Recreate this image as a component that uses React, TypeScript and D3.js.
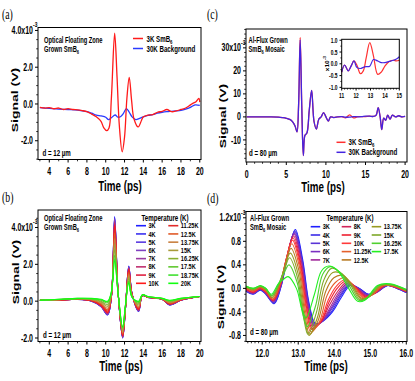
import React from "react";
import * as d3 from "d3";

const W = 415;
const H = 381;
const SX = 0.7; // the original figure is squeezed horizontally
const SANS = "'Liberation Sans', Arial, Helvetica, sans-serif";
const SERIF = "'Liberation Serif', 'Times New Roman', serif";

// ---------- panel (a): optical floating zone, 3K vs 30K ----------
const aRedTime = [3, 3.5, 4, 4.5, 5, 5.5, 6, 6.5, 7, 7.5, 8, 8.5, 9, 9.5, 9.8, 10.1, 10.35, 10.6, 10.95, 11.2, 11.45, 11.75, 12.0, 12.25, 12.5, 12.75, 13.0, 13.45, 13.8, 14.0, 14.5, 15.0, 15.5, 16.0, 16.5, 17.0, 17.5, 18.0, 18.5, 19.0, 19.3, 19.6, 19.9, 20.0];
const aRed = [-0.18, -0.22, -0.2, -0.26, -0.22, -0.3, -0.25, -0.3, -0.32, -0.36, -0.42, -0.55, -0.7, -0.95, -1.3, -1.45, -1.3, 0.3, 3.85, 1.5, -1.2, -2.6, -1.8, 0.3, 1.45, 0.2, -0.8, -1.25, -0.9, -0.7, -0.6, -0.58, -0.45, -0.4, -0.3, -0.42, -0.38, -0.3, -0.22, -0.05, 0.05, 0.12, 0.3, 0.1];
const aBlueTime = [3, 4, 5, 6, 7, 8, 8.5, 9, 9.5, 10.0, 10.3, 10.6, 11.0, 11.3, 11.6, 11.9, 12.2, 12.5, 12.8, 13.2, 13.6, 14.0, 14.5, 15, 15.5, 16, 16.5, 17, 17.5, 18, 18.5, 19, 19.5, 20];
const aBlue = [-0.2, -0.24, -0.28, -0.3, -0.33, -0.42, -0.5, -0.6, -0.65, -0.72, -0.85, -0.75, -0.6, -0.72, -0.68, -0.5, -0.25, -0.45, -0.7, -0.85, -0.78, -0.7, -0.62, -0.58, -0.5, -0.45, -0.42, -0.4, -0.38, -0.35, -0.28, -0.18, -0.05, -0.08];

// ---------- panel (b): optical floating zone, temperature series ----------
const bTemps = ["3K", "4K", "5K", "6K", "7K", "8K", "9K", "10K", "11.25K", "12.5K", "13.75K", "15K", "16.25K", "17.5K", "18.75K", "20K"];
const bColors = ["#1f1fff", "#3a30f0", "#5a3ae0", "#8040c0", "#9a3aa0", "#c03070", "#e02040", "#ff1a1a", "#e02a2a", "#e05a28", "#c88040", "#a89a3a", "#88b030", "#60c830", "#40e030", "#10ff10"];
const bTime = [3, 5, 7, 8.5, 9.5, 10.2, 10.6, 10.95, 11.3, 11.8, 12.1, 12.45, 12.8, 13.5, 13.9, 14.5, 16, 16.8, 18, 20];
const bValues = [
  [0.05, 0.05, 0.1, 0.0, -0.3, -0.75, 0.2, 4.6, 0.6, -2.0, -0.4, 1.9, 0.4, -0.55, 0.3, 0.2, 0.1, -0.2, 0.05, 0.25],
  [0.05, 0.05, 0.1, 0.0, -0.29, -0.74, 0.21, 4.55, 0.6, -1.99, -0.4, 1.88, 0.4, -0.54, 0.3, 0.2, 0.1, -0.2, 0.05, 0.25],
  [0.05, 0.05, 0.1, 0.01, -0.28, -0.72, 0.21, 4.5, 0.6, -1.98, -0.39, 1.86, 0.39, -0.53, 0.3, 0.2, 0.1, -0.19, 0.05, 0.25],
  [0.05, 0.05, 0.1, 0.01, -0.28, -0.71, 0.22, 4.46, 0.59, -1.96, -0.39, 1.85, 0.39, -0.52, 0.3, 0.2, 0.1, -0.19, 0.05, 0.25],
  [0.05, 0.05, 0.1, 0.01, -0.27, -0.69, 0.22, 4.41, 0.59, -1.95, -0.38, 1.83, 0.38, -0.51, 0.3, 0.2, 0.1, -0.18, 0.05, 0.25],
  [0.05, 0.06, 0.11, 0.02, -0.25, -0.66, 0.24, 4.3, 0.59, -1.93, -0.38, 1.79, 0.38, -0.48, 0.31, 0.2, 0.1, -0.17, 0.06, 0.25],
  [0.05, 0.06, 0.11, 0.03, -0.23, -0.62, 0.25, 4.19, 0.58, -1.9, -0.37, 1.75, 0.37, -0.46, 0.31, 0.21, 0.11, -0.16, 0.07, 0.25],
  [0.05, 0.06, 0.11, 0.03, -0.22, -0.59, 0.26, 4.1, 0.58, -1.87, -0.36, 1.71, 0.36, -0.43, 0.31, 0.21, 0.11, -0.15, 0.07, 0.25],
  [0.05, 0.06, 0.11, 0.04, -0.18, -0.53, 0.29, 3.9, 0.57, -1.83, -0.34, 1.64, 0.34, -0.39, 0.31, 0.21, 0.11, -0.13, 0.08, 0.25],
  [0.05, 0.07, 0.12, 0.06, -0.15, -0.47, 0.31, 3.7, 0.56, -1.78, -0.33, 1.56, 0.33, -0.34, 0.32, 0.22, 0.12, -0.11, 0.09, 0.25],
  [0.05, 0.08, 0.13, 0.08, -0.1, -0.38, 0.35, 3.4, 0.55, -1.7, -0.3, 1.45, 0.3, -0.28, 0.33, 0.23, 0.13, -0.08, 0.1, 0.25],
  [0.05, 0.08, 0.13, 0.09, -0.05, -0.28, 0.39, 3.1, 0.54, -1.63, -0.28, 1.34, 0.28, -0.21, 0.33, 0.23, 0.13, -0.04, 0.11, 0.25],
  [0.05, 0.09, 0.14, 0.11, 0.0, -0.19, 0.43, 2.8, 0.53, -1.55, -0.25, 1.23, 0.25, -0.14, 0.34, 0.24, 0.14, -0.01, 0.13, 0.25],
  [0.05, 0.09, 0.14, 0.13, 0.05, -0.09, 0.46, 2.5, 0.51, -1.48, -0.23, 1.11, 0.23, -0.07, 0.34, 0.24, 0.14, 0.02, 0.14, 0.25],
  [0.05, 0.1, 0.15, 0.14, 0.08, -0.03, 0.49, 2.3, 0.5, -1.42, -0.21, 1.04, 0.21, -0.02, 0.35, 0.25, 0.15, 0.04, 0.15, 0.25],
  [0.05, 0.1, 0.15, 0.15, 0.1, 0.0, 0.5, 2.2, 0.5, -1.4, -0.2, 1.0, 0.2, 0.0, 0.35, 0.25, 0.15, 0.05, 0.15, 0.25],
];

// ---------- panel (c): Al-flux mosaic, 3K vs 30K ----------
const cTime = [0, 1, 2, 3, 4, 4.5, 5, 5.5, 5.8, 6.1, 6.35, 6.55, 6.75, 6.95, 7.15, 7.35, 7.6, 7.9, 8.2, 8.5, 8.8, 9.1, 9.4, 9.7, 10.0, 10.3, 10.6, 11, 11.5, 12, 12.5, 13, 13.5, 14, 14.5, 15, 15.5, 16, 16.35, 16.6, 16.85, 17.05, 17.3, 17.55, 17.8, 18.1, 18.4, 18.8, 19.2, 19.6, 20];
const cRed = [0, 0, 0, 0, -0.1, -0.3, -0.6, -1.2, -2.2, -4, -6.5, 5, 34.5, 5, -16.8, -8, -7, 3, 11.5, -2, -5.3, -1, 0, 1.9, 0, -1.8, 0, -0.3, 0, 0.1, -0.4, 0.9, -0.45, 0.1, 0.15, 0.15, 0.3, 0.2, 0.8, 4, 0, -5.5, -0.5, -1.5, 0.8, -1, 0.8, 0, 0.5, 0, 0.2];
const cBlue = [0, 0, 0, 0, -0.1, -0.3, -0.6, -1.2, -2.2, -4, -6.5, 5, 33.5, 5, -16.8, -8, -7, 3, 11.5, -2, -5.3, -1, 0, 1.9, 0, -1.8, 0, -0.3, 0, 0.1, -0.15, -0.1, 0.12, 0.05, 0.1, 0.3, 0.3, 0.2, 0.8, 4, 0, -5.5, -0.5, -1.5, 0.8, -1, 0.8, 0, 0.5, 0, 0.2];
// inset of (c), 11-15 ps
const insetTime = [11, 11.2, 11.45, 11.65, 11.85, 12.05, 12.3, 12.5, 12.7, 12.95, 13.2, 13.5, 13.75, 14.0, 14.3, 14.6, 14.8, 15];
const insetRed = [-0.35, -0.05, -0.3, -0.1, 0.12, -0.05, -0.42, -0.3, 0.25, 0.9, 0.35, -0.45, -0.35, -0.1, 0.1, 0.15, 0.12, 0.15];
const insetBlue = [-0.35, -0.05, -0.3, -0.1, 0.12, -0.15, -0.2, -0.15, -0.12, -0.1, 0.18, 0.12, 0.05, 0.05, 0.1, 0.15, 0.2, 0.3];

// ---------- panel (d): Al-flux mosaic, temperature series ----------
const dTemps = ["3K", "4K", "5K", "6K", "7K", "8K", "9K", "10K", "11.25K", "12.5K", "13.75K", "15K", "16.25K", "17.5K"];
const dColors = ["#1f1fff", "#3b2be8", "#5a35d6", "#7a2fc0", "#a0289a", "#d0245a", "#ee2030", "#ff3a3a", "#e4602c", "#b87a22", "#989a22", "#7ea828", "#50d030", "#22f022"];
const dTimes = [
  [11.55, 11.75, 11.95, 12.1, 12.33, 12.52, 12.72, 12.92, 13.12, 13.3, 13.48, 13.7, 13.95, 14.2, 14.45, 14.7, 14.95, 15.2, 15.5, 15.75, 16],
  [11.55, 11.75, 11.95, 12.1, 12.33, 12.52, 12.71, 12.91, 13.11, 13.29, 13.47, 13.69, 13.94, 14.18, 14.43, 14.69, 14.94, 15.18, 15.49, 15.74, 16],
  [11.55, 11.75, 11.95, 12.1, 12.32, 12.51, 12.71, 12.9, 13.1, 13.28, 13.45, 13.68, 13.92, 14.17, 14.42, 14.67, 14.92, 15.17, 15.47, 15.73, 16],
  [11.55, 11.75, 11.95, 12.1, 12.32, 12.51, 12.7, 12.89, 13.09, 13.27, 13.44, 13.66, 13.91, 14.15, 14.4, 14.66, 14.91, 15.15, 15.46, 15.72, 16],
  [11.55, 11.75, 11.95, 12.1, 12.31, 12.51, 12.69, 12.88, 13.09, 13.26, 13.43, 13.65, 13.89, 14.13, 14.38, 14.64, 14.89, 15.13, 15.44, 15.71, 16],
  [11.55, 11.75, 11.95, 12.1, 12.31, 12.5, 12.68, 12.87, 13.07, 13.25, 13.41, 13.63, 13.87, 14.11, 14.36, 14.62, 14.87, 15.11, 15.42, 15.7, 16],
  [11.55, 11.75, 11.95, 12.1, 12.3, 12.5, 12.67, 12.85, 13.06, 13.23, 13.39, 13.62, 13.85, 14.08, 14.33, 14.6, 14.85, 15.08, 15.4, 15.68, 16],
  [11.55, 11.75, 11.95, 12.1, 12.3, 12.49, 12.66, 12.84, 13.05, 13.22, 13.37, 13.6, 13.83, 14.06, 14.31, 14.58, 14.83, 15.06, 15.38, 15.67, 16],
  [11.55, 11.75, 11.95, 12.1, 12.29, 12.49, 12.65, 12.82, 13.04, 13.2, 13.35, 13.58, 13.8, 14.03, 14.28, 14.55, 14.8, 15.03, 15.35, 15.65, 16],
  [11.55, 11.75, 11.95, 12.1, 12.28, 12.48, 12.64, 12.8, 13.02, 13.18, 13.32, 13.55, 13.77, 13.99, 14.24, 14.52, 14.77, 14.99, 15.32, 15.63, 16],
  [11.55, 11.75, 11.95, 12.1, 12.27, 12.47, 12.62, 12.78, 13.0, 13.16, 13.3, 13.53, 13.74, 13.96, 14.21, 14.49, 14.74, 14.96, 15.29, 15.61, 16],
  [11.55, 11.75, 11.95, 12.1, 12.27, 12.46, 12.61, 12.76, 12.98, 13.14, 13.27, 13.5, 13.71, 13.92, 14.17, 14.46, 14.71, 14.92, 15.26, 15.59, 16],
  [11.55, 11.75, 11.95, 12.1, 12.26, 12.46, 12.59, 12.74, 12.97, 13.12, 13.25, 13.48, 13.68, 13.89, 14.14, 14.43, 14.68, 14.89, 15.23, 15.57, 16],
  [11.55, 11.75, 11.95, 12.1, 12.25, 12.45, 12.58, 12.72, 12.95, 13.1, 13.22, 13.45, 13.65, 13.85, 14.1, 14.4, 14.65, 14.85, 15.2, 15.55, 16],
];
const dValues = [
  [-0.05, -0.1, -0.03, -0.1, -0.26, 0.02, 0.6, 1.0, 0.5, -0.25, -0.6, -0.55, -0.4, -0.15, 0.05, 0, -0.1, -0.05, 0.05, 0, -0.07],
  [-0.04, -0.09, -0.02, -0.09, -0.25, 0.03, 0.58, 0.98, 0.49, -0.25, -0.6, -0.55, -0.38, -0.13, 0.06, 0, -0.1, -0.06, 0.05, 0, -0.07],
  [-0.04, -0.09, -0.02, -0.09, -0.24, 0.03, 0.57, 0.96, 0.48, -0.26, -0.62, -0.56, -0.36, -0.11, 0.07, 0, -0.11, -0.07, 0.05, 0.01, -0.06],
  [-0.03, -0.08, -0.01, -0.08, -0.23, 0.04, 0.56, 0.94, 0.47, -0.27, -0.63, -0.56, -0.34, -0.09, 0.08, 0, -0.11, -0.08, 0.05, 0.01, -0.06],
  [-0.02, -0.08, -0.01, -0.08, -0.22, 0.04, 0.55, 0.92, 0.46, -0.28, -0.64, -0.56, -0.32, -0.07, 0.09, 0, -0.12, -0.08, 0.05, 0.02, -0.06],
  [-0.02, -0.07, 0, -0.07, -0.21, 0.05, 0.53, 0.89, 0.44, -0.3, -0.66, -0.57, -0.28, -0.04, 0.11, 0.01, -0.13, -0.09, 0.05, 0.02, -0.05],
  [-0.01, -0.06, 0, -0.06, -0.2, 0.05, 0.5, 0.86, 0.42, -0.32, -0.68, -0.58, -0.24, 0, 0.13, 0.01, -0.14, -0.1, 0.05, 0.03, -0.05],
  [0, -0.05, 0.01, -0.05, -0.19, 0.06, 0.48, 0.82, 0.39, -0.34, -0.7, -0.58, -0.2, 0.04, 0.15, 0.02, -0.15, -0.11, 0.05, 0.03, -0.05],
  [0, -0.04, 0.02, -0.04, -0.18, 0.06, 0.44, 0.76, 0.35, -0.38, -0.74, -0.58, -0.12, 0.1, 0.18, 0.03, -0.16, -0.12, 0.05, 0.04, -0.04],
  [0.01, -0.03, 0.02, -0.03, -0.16, 0.07, 0.4, 0.68, 0.3, -0.42, -0.78, -0.55, -0.04, 0.18, 0.22, 0.04, -0.17, -0.13, 0.05, 0.05, -0.04],
  [0.02, -0.02, 0.03, -0.02, -0.15, 0.07, 0.35, 0.6, 0.24, -0.45, -0.8, -0.5, 0.06, 0.27, 0.25, 0.05, -0.18, -0.15, 0.05, 0.05, -0.03],
  [0.02, -0.01, 0.04, -0.01, -0.13, 0.08, 0.3, 0.52, 0.18, -0.45, -0.78, -0.42, 0.14, 0.34, 0.27, 0.05, -0.19, -0.16, 0.05, 0.06, -0.03],
  [0.03, 0, 0.04, 0, -0.12, 0.08, 0.23, 0.4, 0.1, -0.42, -0.65, -0.3, 0.24, 0.37, 0.28, 0.03, -0.2, -0.18, 0.05, 0.07, -0.02],
  [0.04, 0, 0.05, 0, -0.1, 0.08, 0.15, 0.2, 0, -0.35, -0.5, -0.1, 0.3, 0.38, 0.3, 0, -0.22, -0.2, 0.05, 0.08, -0.02],
];

// ---------- ticks ----------
const abXTicks = [4, 6, 8, 10, 12, 14, 16, 18, 20];
const abYTicks = [-2, 0, 2, 4];
const cXTicks = [0, 5, 10, 15, 20];
const cYTicks = [-10, 0, 10, 20, 30];
const dXTicks = [12, 13, 14, 15, 16];
const dYTicks = [-0.8, -0.4, 0, 0.4, 0.8, 1.2];
const insetXTicks = [11, 12, 13, 14, 15];
const insetYTicks = [-1, -0.5, 0, 0.5, 1];

const hy = (s: string) => s.replace("\u2212", "-");
const f1 = (v: number) => hy(d3.format(".1f")(v));
const f0 = (v: number) => hy(d3.format("d")(v));

function Txt({ x, y, size = 9, anchor = "start", weight = "bold", family = SANS, fill = "#000", rot = false, children }: any) {
  return (
    <g transform={`translate(${x},${y}) scale(${SX},1)${rot ? " rotate(-90)" : ""}`}>
      <text fontSize={size} fontWeight={weight} fontFamily={family} textAnchor={anchor} fill={fill}>
        {children}
      </text>
    </g>
  );
}

const Sm = ({ size, after }: any) => (
  <>
    SmB<tspan fontSize={size * 0.7} dy={size * 0.25}>6</tspan>
    {after ? <tspan dy={-size * 0.25}>{after}</tspan> : null}
  </>
);

function Axes({ xs, ys, xTicks, xMinor, yTicks, yMinor, xFmt, yFmt, topExp, lab = 10, xOff = 15.5, major = 3, minor = 1.8 }: any) {
  const [x0, x1] = xs.range();
  const [y0, y1] = ys.range();
  const topV = yTicks[yTicks.length - 1];
  return (
    <g>
      <rect x={x0} y={y1} width={x1 - x0} height={y0 - y1} fill="none" stroke="#000" strokeWidth={1} />
      {xMinor.map((v: number) => (
        <line key={"xm" + v} x1={xs(v)} x2={xs(v)} y1={y0} y2={y0 + minor} stroke="#000" strokeWidth={0.8} />
      ))}
      {xTicks.map((v: number) => (
        <g key={"x" + v}>
          <line x1={xs(v)} x2={xs(v)} y1={y0} y2={y0 + major} stroke="#000" strokeWidth={1} />
          <Txt x={xs(v)} y={y0 + xOff} size={lab} anchor="middle">{xFmt(v)}</Txt>
        </g>
      ))}
      {yMinor.map((v: number) => (
        <line key={"ym" + v} x1={x0 - minor} x2={x0} y1={ys(v)} y2={ys(v)} stroke="#000" strokeWidth={0.8} />
      ))}
      {yTicks.map((v: number) => (
        <g key={"y" + v}>
          <line x1={x0 - major} x2={x0} y1={ys(v)} y2={ys(v)} stroke="#000" strokeWidth={1} />
          <Txt x={x0 - major - 2} y={ys(v) + lab * 0.36} size={lab} anchor="end">
            {yFmt(v) + (topExp && v === topV ? "x10" : "")}
          </Txt>
          {topExp && v === topV ? (
            <Txt x={x0 - major - 2} y={ys(v) - lab * 0.3} size={lab * 0.7} anchor="start">-3</Txt>
          ) : null}
        </g>
      ))}
    </g>
  );
}

const minorRange = (a: number, b: number, step: number, majors: number[]) =>
  d3.range(Math.round(a / step), Math.round(b / step) + 1)
    .map((i) => +(i * step).toFixed(3))
    .filter((v) => !majors.some((m) => Math.abs(m - v) < 1e-6));

const curve = d3.curveCatmullRom.alpha(0.5);
function path(xs: any, ys: any, t: number[], v: number[]) {
  return d3.line<number>().x((_, i) => xs(t[i])).y((d) => ys(d)).curve(curve)(v) || "";
}

const NOTE = 8.2; // size of the in-panel notes

export default function App() {
  // panel scales
  const axX = d3.scaleLinear().domain([2.8, 20.13]).range([38, 201]);
  const aY = d3.scaleLinear().domain([-3.02, 4.16]).range([159.5, 27.5]);
  const bX = d3.scaleLinear().domain([2.8, 20.13]).range([38, 201]);
  const bY = d3.scaleLinear().domain([-2.19, 4.95]).range([341.5, 210]);
  const cX = d3.scaleLinear().domain([-0.09, 20.24]).range([246, 407]);
  const cY = d3.scaleLinear().domain([-19.6, 38.2]).range([162, 29]);
  const dX = d3.scaleLinear().domain([11.55, 16.02]).range([246, 407]);
  const dY = d3.scaleLinear().domain([-0.903, 1.307]).range([341.5, 211.5]);
  const iX = d3.scaleLinear().domain([11, 15]).range([341.7, 399.3]);
  const iY = d3.scaleLinear().domain([-1.04, 1.04]).range([88.3, 39.3]);

  const red = "#ff1a1a";
  const blue = "#2a3aff";
  const cRedC = "#ff3030";
  const cBlueC = "#4424e0";

  return (
    <svg width={W} height={H} style={{ position: "absolute", left: 0, top: 0, background: "#fff" }}>
      <rect width={W} height={H} fill="#fff" />

      {/* ================= (a) ================= */}
      <Txt x={2} y={19} size={14} weight="normal" family={SERIF}>(a)</Txt>
      <path d={path(axX, aY, aBlueTime, aBlue)} fill="none" stroke={blue} strokeWidth={1.3} />
      <path d={path(axX, aY, aRedTime, aRed)} fill="none" stroke={red} strokeWidth={1.3} />
      <Axes xs={axX} ys={aY} xTicks={abXTicks} xMinor={minorRange(3, 20, 1, abXTicks)} yTicks={abYTicks}
        yMinor={minorRange(-3, 4, 0.5, abYTicks)} xFmt={f0} yFmt={f1} topExp />
      <Txt x={44} y={42.5} size={NOTE}>Optical Floating Zone</Txt>
      <Txt x={44} y={51.5} size={NOTE}>Grown <Sm size={NOTE} /></Txt>
      <line x1={133} x2={143} y1={38.5} y2={38.5} stroke={red} strokeWidth={1.5} />
      <Txt x={146.5} y={41.5} size={8.8}>3K <Sm size={8.8} /></Txt>
      <line x1={133} x2={143} y1={48.5} y2={48.5} stroke={blue} strokeWidth={1.5} />
      <Txt x={146.5} y={51.5} size={8.8}>30K Background</Txt>
      <Txt x={42.5} y={156} size={8.8}>d = 12 µm</Txt>
      <Txt x={18} y={100} size={14} anchor="middle" rot>Signal (V)</Txt>
      <Txt x={120} y={190.5} size={14} anchor="middle">Time (ps)</Txt>

      {/* ================= (b) ================= */}
      <Txt x={2} y={202} size={14} weight="normal" family={SERIF}>(b)</Txt>
      {bValues.map((v, i) => (
        <path key={"b" + i} d={path(bX, bY, bTime, v)} fill="none" stroke={bColors[i]} strokeWidth={1.1} />
      ))}
      <Axes xs={bX} ys={bY} xTicks={abXTicks} xMinor={minorRange(3, 20, 1, abXTicks)} yTicks={abYTicks}
        yMinor={minorRange(-2, 4.5, 0.5, abYTicks)} xFmt={f0} yFmt={f1} topExp />
      <Txt x={44} y={220.5} size={NOTE}>Optical Floating Zone</Txt>
      <Txt x={44} y={229.5} size={NOTE}>Grown <Sm size={NOTE} /></Txt>
      <Txt x={165} y={220.5} size={8.8} anchor="middle">Temperature (K)</Txt>
      {bTemps.map((t, i) => {
        const col = Math.floor(i / 8);
        const row = i % 8;
        const lx = col === 0 ? 136 : 168.3;
        const ly = 225.7 + row * 8.23;
        return (
          <g key={"bl" + t}>
            <line x1={lx} x2={lx + 10} y1={ly} y2={ly} stroke={bColors[i]} strokeWidth={1.6} />
            <Txt x={lx + 12.5} y={ly + 2.6} size={8}>{t}</Txt>
          </g>
        );
      })}
      <Txt x={43} y={338} size={8.8}>d = 12 µm</Txt>
      <Txt x={19} y={272} size={14} anchor="middle" rot>Signal (V)</Txt>
      <Txt x={121} y={371} size={14} anchor="middle">Time (ps)</Txt>

      {/* ================= (c) ================= */}
      <Txt x={207} y={19} size={14} weight="normal" family={SERIF}>(c)</Txt>
      <path d={path(cX, cY, cTime, cRed)} fill="none" stroke={cRedC} strokeWidth={1.3} />
      <path d={path(cX, cY, cTime, cBlue)} fill="none" stroke={cBlueC} strokeWidth={1.3} />
      <Axes xs={cX} ys={cY} xTicks={cXTicks} xMinor={minorRange(0, 20, 1, cXTicks)} yTicks={cYTicks}
        yMinor={minorRange(-18, 38, 2, cYTicks)} xFmt={f0} yFmt={f0} topExp />
      <Txt x={248.5} y={42.5} size={NOTE}>Al-Flux Grown</Txt>
      <Txt x={248.5} y={51.5} size={NOTE}><Sm size={NOTE} after=" Mosaic" /></Txt>
      <Txt x={249} y={156} size={8.8}>d = 80 µm</Txt>
      <line x1={336.5} x2={345.5} y1={142.3} y2={142.3} stroke={cRedC} strokeWidth={1.5} />
      <Txt x={348.5} y={145.2} size={8.8}>3K <Sm size={8.8} /></Txt>
      <line x1={336.5} x2={345.5} y1={152.3} y2={152.3} stroke={cBlueC} strokeWidth={1.5} />
      <Txt x={348.5} y={155.2} size={8.8}>30K Background</Txt>
      <Txt x={226} y={116} size={14} anchor="middle" rot>Signal (V)</Txt>
      <Txt x={323} y={192} size={14} anchor="middle">Time (ps)</Txt>

      {/* inset */}
      <rect x={341.7} y={39.3} width={57.6} height={49} fill="#fff" />
      <path d={path(iX, iY, insetTime, insetRed)} fill="none" stroke={cRedC} strokeWidth={1.2} />
      <path d={path(iX, iY, insetTime, insetBlue)} fill="none" stroke={cBlueC} strokeWidth={1.2} />
      <Axes xs={iX} ys={iY} xTicks={insetXTicks} xMinor={minorRange(11, 15, 0.2, insetXTicks)} yTicks={insetYTicks}
        yMinor={minorRange(-1, 1, 0.25, insetYTicks)} xFmt={f0} yFmt={f1} lab={7} xOff={10} major={2.2} minor={1.3} />
      <Txt x={328.5} y={63.5} size={6.5} anchor="middle" rot>
        x10<tspan fontSize={5} dy={-3}>-3</tspan>
      </Txt>

      {/* ================= (d) ================= */}
      <Txt x={207} y={203} size={14} weight="normal" family={SERIF}>(d)</Txt>
      {dValues.map((v, i) => (
        <path key={"d" + i} d={path(dX, dY, dTimes[i], v)} fill="none" stroke={dColors[i]} strokeWidth={1.1} />
      ))}
      <Axes xs={dX} ys={dY} xTicks={dXTicks} xMinor={minorRange(11.6, 16, 0.1, dXTicks)} yTicks={dYTicks}
        yMinor={minorRange(-0.9, 1.3, 0.1, dYTicks)} xFmt={f1} yFmt={f1} topExp />
      <Txt x={250} y={220.5} size={NOTE}>Al-Flux Grown</Txt>
      <Txt x={250} y={229.5} size={NOTE}><Sm size={NOTE} after=" Mosaic" /></Txt>
      <Txt x={350} y={221} size={8.8} anchor="middle">Temperature (K)</Txt>
      {dTemps.map((t, i) => {
        const col = i < 5 ? 0 : i < 10 ? 1 : 2;
        const row = col === 0 ? i : col === 1 ? i - 5 : i - 10;
        const lx = [310.7, 341.7, 371.7][col];
        const ly = 226.7 + row * 8.3;
        return (
          <g key={"dl" + t}>
            <line x1={lx} x2={lx + 9.5} y1={ly} y2={ly} stroke={dColors[i]} strokeWidth={1.6} />
            <Txt x={lx + 12} y={ly + 2.6} size={8}>{t}</Txt>
          </g>
        );
      })}
      <Txt x={250} y={334.5} size={8.8}>d = 80 µm</Txt>
      <Txt x={224} y={297} size={14} anchor="middle" rot>Signal (V)</Txt>
      <Txt x={326} y={371} size={14} anchor="middle">Time (ps)</Txt>
    </svg>
  );
}
